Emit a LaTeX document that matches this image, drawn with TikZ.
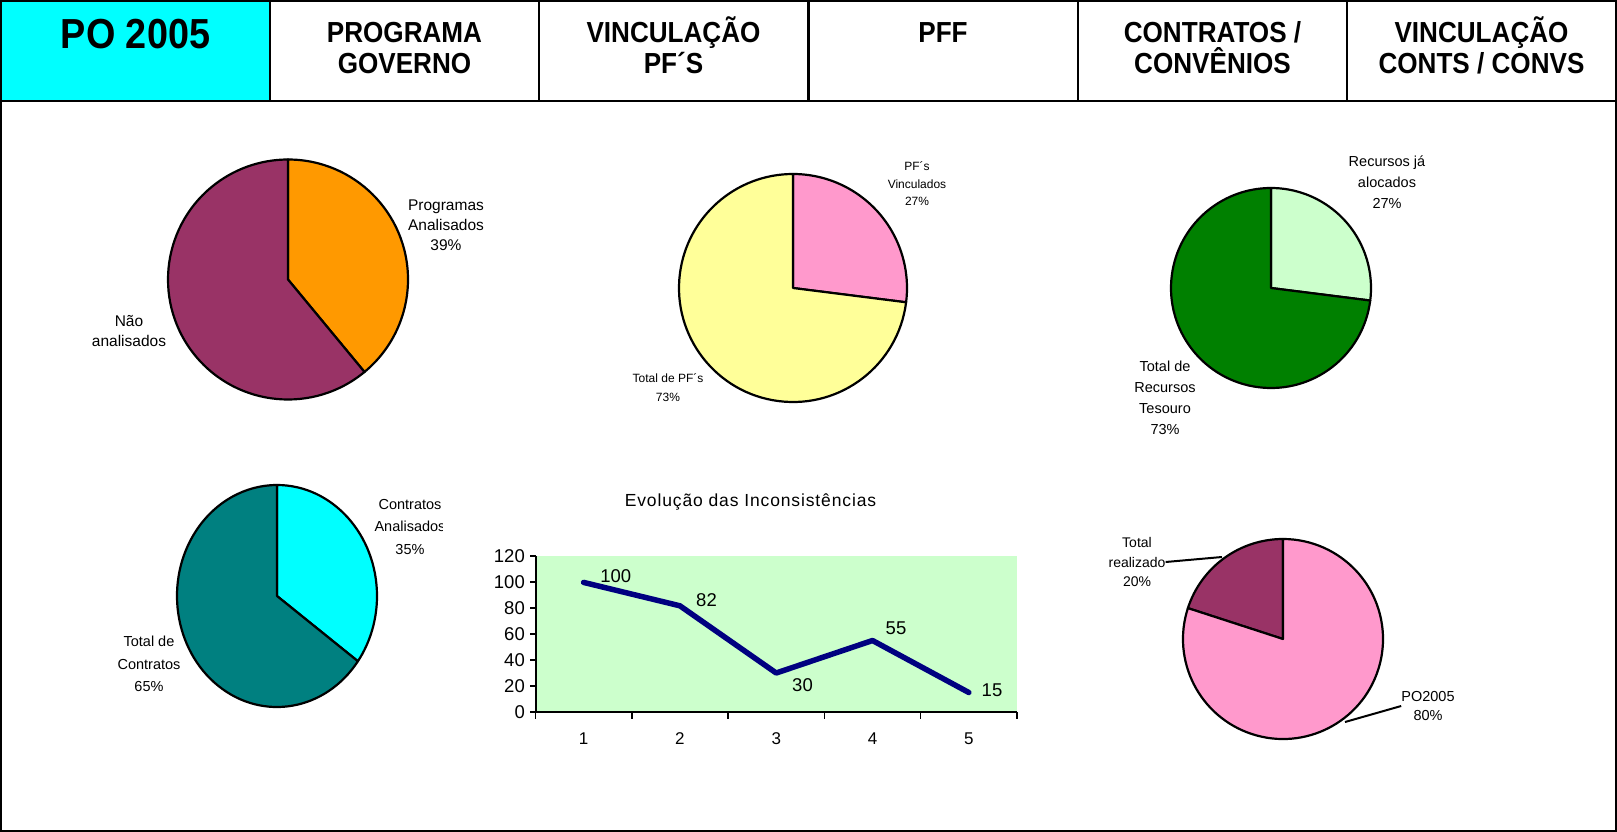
\documentclass[tikz,border=0pt]{standalone}
\usepackage{fontspec}
\setmainfont{Liberation Sans}
\newfontfamily\hdrfont[FakeStretch=0.9]{Liberation Sans}
\newfontfamily\spacedfont[LetterSpace=5]{Liberation Sans}
\usetikzlibrary{positioning}
\definecolor{poCyan}{HTML}{00FFFF}
\definecolor{prgOrange}{HTML}{FF9900}
\definecolor{plum}{HTML}{993366}
\definecolor{pinkA}{HTML}{FF99CC}
\definecolor{paleYellow}{HTML}{FFFF99}
\definecolor{paleGreen}{HTML}{CCFFCC}
\definecolor{darkGreen}{HTML}{008000}
\definecolor{tealA}{HTML}{008080}
\definecolor{navyA}{HTML}{000080}
\tikzstyle{cell} = [rectangle, draw, line width=2pt, minimum width=269pt,
    minimum height=100pt, inner sep=0pt]
\tikzstyle{hdr} = [font=\hdrfont\bfseries\fontsize{29}{31}\selectfont,
    align=center, anchor=base, inner sep=0pt]
\tikzstyle{lbl} = [font=\fontsize{14.5}{21}\selectfont, align=center, inner sep=0pt]
\tikzstyle{slice} = [draw=black, line width=2.2pt, line join=round]
\tikzstyle{axlbl} = [font=\fontsize{18.5}{18.5}\selectfont, inner sep=0pt]

\begin{document}
\begin{tikzpicture}[x=1pt,y=1pt]
  \useasboundingbox (0,0) rectangle (1617,-832);
  \draw[line width=2pt] (1,-1) rectangle (1615.5,-831);

  \node[cell, fill=poCyan] (po)   at (135.5,-51) {};
  \node[cell]              (prog) at (404.5,-51) {};
  \node[cell]              (vinc) at (673.5,-51) {};
  \node[cell]              (pff)  at (943,-51)   {};
  \node[cell]              (cont) at (1212.5,-51) {};
  \node[cell]              (vcc)  at (1481.5,-51) {};

  \node[hdr, font=\hdrfont\bfseries\fontsize{42}{44}\selectfont] (poTxt) at (135.5,-48.5) {PO 2005};
  \node[hdr] (progTxt) at (404.5,-73.2) {PROGRAMA\\GOVERNO};
  \node[hdr] (vincTxt) at (673.5,-73.2) {VINCULAÇÃO\\PF´S};
  \node[hdr] (pffTxt)  at (943,-42.3)   {PFF};
  \node[hdr] (contTxt) at (1212.5,-73.2) {CONTRATOS /\\CONVÊNIOS};
  \node[hdr] (vccTxt)  at (1481.5,-73.2) {VINCULAÇÃO\\CONTS / CONVS};

  \filldraw[slice, fill=prgOrange] (288,-279.5) -- ++(90:120) arc[start angle=90, end angle=-50.4, radius=120] -- cycle;
  \filldraw[slice, fill=plum] (288,-279.5) -- ++(-50.4:120) arc[start angle=-50.4, end angle=-270, radius=120] -- cycle;
  \node[lbl, font=\fontsize{15.5}{20}\selectfont] (progLbl) at (446,-225) {Programas\\Analisados\\39\%};
  \node[lbl, font=\fontsize{15.5}{20}\selectfont] (naoLbl) at (129,-331) {Não\\analisados};

  \filldraw[slice, fill=pinkA] (793,-288) -- ++(90:114) arc[start angle=90, end angle=-7.2, radius=114] -- cycle;
  \filldraw[slice, fill=paleYellow] (793,-288) -- ++(-7.2:114) arc[start angle=-7.2, end angle=-270, radius=114] -- cycle;
  \node[lbl, font=\fontsize{12}{17.5}\selectfont] (pfVinc) at (917,-184) {PF´s\\Vinculados\\27\%};
  \node[lbl, font=\fontsize{12}{18.5}\selectfont] (pfTot) at (668,-387.5) {Total de PF´s\\73\%};

  \filldraw[slice, fill=paleGreen] (1271,-288) -- ++(90:100) arc[start angle=90, end angle=-7.2, radius=100] -- cycle;
  \filldraw[slice, fill=darkGreen] (1271,-288) -- ++(-7.2:100) arc[start angle=-7.2, end angle=-270, radius=100] -- cycle;
  \node[lbl] (recAloc) at (1387,-182) {Recursos já\\alocados\\27\%};
  \node[lbl] (recTot) at (1165,-397.5) {Total de\\Recursos\\Tesouro\\73\%};

  \filldraw[slice, fill=poCyan] (277,-596) -- ++(90:100 and 111) arc[start angle=90, end angle=-36, x radius=100, y radius=111] -- cycle;
  \filldraw[slice, fill=tealA] (277,-596) -- ++(-36:100 and 111) arc[start angle=-36, end angle=-270, x radius=100, y radius=111] -- cycle;
  \begin{scope}
    \clip (0,0) rectangle (442,-832);
    \node[lbl, font=\fontsize{14.5}{22.5}\selectfont] (contAn) at (410,-527) {Contratos\\Analisados\\35\%};
  \end{scope}
  \node[lbl, font=\fontsize{14.5}{22.5}\selectfont] (contTot) at (149,-664) {Total de\\Contratos\\65\%};

  \filldraw[slice, fill=plum] (1283,-639) -- ++(90:100) arc[start angle=90, end angle=162, radius=100] -- cycle;
  \filldraw[slice, fill=pinkA] (1283,-639) -- ++(162:100) arc[start angle=162, end angle=450, radius=100] -- cycle;
  \node[lbl, font=\fontsize{14}{19.5}\selectfont] (realLbl) at (1137,-562) {Total\\realizado\\20\%};
  \node[lbl, font=\fontsize{14.5}{19}\selectfont] (poLbl) at (1428,-706) {PO2005\\80\%};
  \coordinate (realEdge) at (1222,-557);
  \coordinate (poEdge) at (1345,-722);
  \draw[line width=2pt] (realLbl.east) -- (realEdge);
  \draw[line width=2pt] (poLbl.west) -- (poEdge);

  \node[font=\spacedfont\fontsize{17.5}{17.5}\selectfont] (evTitle) at (750.5,-502) {Evolução das Inconsistências};
  \fill[paleGreen] (535.5,-556) rectangle (1017,-712);
  \foreach \k in {0,...,6} {
    \draw[line width=1.5pt] (530,-712+26*\k) -- (535.5,-712+26*\k);
    \pgfmathtruncatemacro{\v}{20*\k}
    \node[axlbl, anchor=east] (yl\k) at (525,-712+26*\k) {\v};
  }
  \foreach \i in {0,...,5}
    \draw[line width=1.5pt] (535.5+96.3*\i,-712) -- (535.5+96.3*\i,-719);
  \foreach \i in {1,...,5}
    \node[axlbl, font=\fontsize{17}{17}\selectfont] (xl\i) at (535.5+96.3*\i-48.15,-739) {\i};
  \draw[line width=2pt] (535.5,-556) -- (535.5,-712) -- (1017,-712);

  \coordinate (p1) at (583.6,-582.4);
  \coordinate (p2) at (679.9,-605.8);
  \coordinate (p3) at (776.2,-673);
  \coordinate (p4) at (872.5,-640.5);
  \coordinate (p5) at (968.8,-692.5);
  \draw[navyA, line width=5.5pt, line join=round, line cap=round] (p1) -- (p2) -- (p3) -- (p4) -- (p5);
  \node[axlbl] (d1) at (615.7,-576.5) {100};
  \node[axlbl] (d2) at (706.5,-600)   {82};
  \node[axlbl] (d3) at (802.5,-685)   {30};
  \node[axlbl] (d4) at (896,-628.5)   {55};
  \node[axlbl] (d5) at (992,-690)     {15};
\end{tikzpicture}
\end{document}
